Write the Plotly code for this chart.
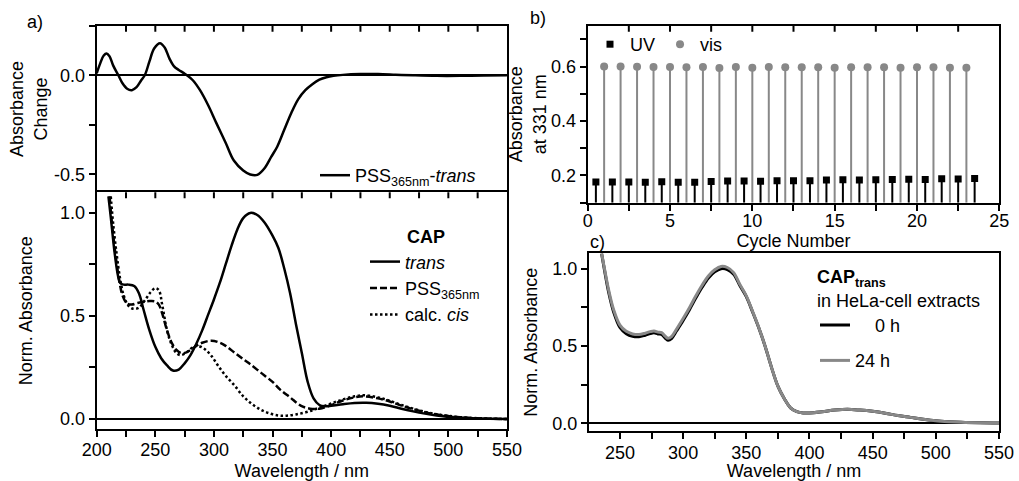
import plotly.graph_objects as go

FONT = "Liberation Sans, Arial, sans-serif"
GREY = "#888888"
CLEAR = "rgba(0,0,0,0)"

# ---------------- panel a (top): difference spectrum PSS365nm - trans
diff_wl = [200, 203, 206, 208.5, 211, 214, 218.5, 222, 226, 230, 234, 238, 241, 245, 249,
           254, 258, 262, 266, 270, 274, 277, 282, 288, 295, 302, 310, 317, 325, 331, 337,
           343, 349, 354, 360, 366, 372, 378, 384, 390, 396, 402, 410, 425, 440, 455, 470,
           490, 510, 530, 550]
diff_abs = [0.01, 0.06, 0.10, 0.11, 0.095, 0.05, 0.0, -0.04, -0.068, -0.075, -0.06, -0.025,
            0.0, 0.07, 0.135, 0.162, 0.14, 0.085, 0.045, 0.027, 0.012, 0.0, -0.025, -0.074,
            -0.15, -0.24, -0.34, -0.43, -0.48, -0.5, -0.502, -0.47, -0.41, -0.36, -0.275,
            -0.19, -0.12, -0.075, -0.045, -0.022, -0.01, -0.003, 0.002, 0.006, 0.006, 0.003,
            0.0, -0.003, -0.003, -0.001, 0.0]

# ---------------- panel a (bottom): normalised spectra of CAP
trans_wl = [210, 212, 215, 218, 220, 223, 227, 232, 236, 240, 245, 250, 255, 260, 265, 270,
            275, 280, 285, 290, 295, 300, 305, 310, 315, 320, 325, 331, 337, 343, 350, 355,
            360, 365, 370, 375, 380, 385, 390, 395, 400, 410, 420, 430, 440, 450, 460, 470,
            480, 490, 500, 510, 520, 535, 550]
trans_abs = [1.08, 0.98, 0.82, 0.70, 0.66, 0.652, 0.652, 0.645, 0.61, 0.53, 0.43, 0.35,
             0.295, 0.26, 0.235, 0.24, 0.27, 0.31, 0.365, 0.43, 0.505, 0.58, 0.66, 0.75,
             0.84, 0.92, 0.975, 1.0, 0.99, 0.955, 0.89, 0.83, 0.73, 0.61, 0.46, 0.32, 0.18,
             0.10, 0.068, 0.062, 0.064, 0.072, 0.078, 0.079, 0.074, 0.064, 0.05, 0.037,
             0.026, 0.017, 0.01, 0.006, 0.003, 0.001, 0.0]

pss_wl = [211, 213, 216, 219, 222, 226, 230, 235, 240, 245, 250, 253, 256, 260, 264, 268,
          272, 276, 280, 285, 290, 298, 305, 310, 318, 325, 330, 340, 350, 357, 365, 374,
          382, 390, 400, 410, 420, 428, 440, 450, 460, 470, 480, 490, 500, 510, 525, 550]
pss_abs = [1.08, 0.95, 0.80, 0.68, 0.60, 0.56, 0.555, 0.563, 0.568, 0.572, 0.57, 0.555,
           0.51, 0.43, 0.37, 0.335, 0.32, 0.322, 0.335, 0.355, 0.37, 0.38, 0.37, 0.355,
           0.32, 0.29, 0.27, 0.225, 0.18, 0.14, 0.105, 0.065, 0.05, 0.05, 0.068, 0.09,
           0.105, 0.11, 0.1, 0.085, 0.065, 0.048, 0.033, 0.022, 0.014, 0.008, 0.003, 0.0]

cis_wl = [212, 214, 217, 220, 223, 227, 231, 236, 241, 246, 250, 253, 256, 260, 264, 268,
          272, 277, 282, 286, 292, 298, 304, 310, 318, 325, 332, 340, 347, 355, 362, 370,
          380, 390, 400, 410, 420, 428, 440, 450, 460, 470, 480, 490, 500, 510, 525, 550]
cis_abs = [1.08, 0.95, 0.80, 0.68, 0.60, 0.55, 0.535, 0.54, 0.575, 0.615, 0.635, 0.625,
           0.55, 0.43, 0.36, 0.32, 0.31, 0.325, 0.348, 0.355, 0.34, 0.305, 0.255, 0.21,
           0.16, 0.11, 0.075, 0.045, 0.028, 0.017, 0.016, 0.022, 0.035, 0.055, 0.075,
           0.095, 0.11, 0.115, 0.105, 0.088, 0.068, 0.05, 0.035, 0.023, 0.015, 0.009,
           0.004, 0.0]

# ---------------- panel b: switching cycles, absorbance at 331 nm
uv_cycle = [i + 0.5 for i in range(24)]
uv_abs = [0.176, 0.176, 0.176, 0.175, 0.177, 0.175, 0.175, 0.178, 0.180, 0.180, 0.179,
          0.181, 0.181, 0.181, 0.183, 0.184, 0.183, 0.184, 0.185, 0.186, 0.185, 0.188,
          0.187, 0.189]
vis_cycle = list(range(1, 24))
vis_abs = [0.600, 0.600, 0.599, 0.598, 0.598, 0.597, 0.598, 0.595, 0.598, 0.596, 0.598,
           0.597, 0.597, 0.597, 0.596, 0.597, 0.597, 0.597, 0.596, 0.597, 0.597, 0.596,
           0.596]
stem_base = 0.1

# ---------------- panel c: CAP(trans) in HeLa-cell extracts
hela_wl = [235.5, 238, 241, 245, 250, 255, 260, 265, 270, 274, 277, 280, 283, 286, 288,
           291, 295, 300, 305, 310, 315, 320, 325, 330, 335, 340, 345, 350, 355, 360, 365,
           370, 375, 380, 385, 390, 395, 400, 410, 420, 430, 440, 450, 460, 470, 480, 490,
           500, 510, 520, 535, 550]
hela_0h = [1.097, 0.98, 0.85, 0.72, 0.62, 0.58, 0.563, 0.56, 0.57, 0.58, 0.585, 0.578,
           0.575, 0.55, 0.537, 0.55, 0.60, 0.665, 0.735, 0.81, 0.88, 0.94, 0.98, 1.0,
           0.995, 0.965, 0.89, 0.82, 0.72, 0.615, 0.495, 0.36, 0.24, 0.16, 0.10, 0.075,
           0.067, 0.067, 0.075, 0.085, 0.09, 0.085, 0.077, 0.065, 0.05, 0.038, 0.026,
           0.016, 0.01, 0.006, 0.003, 0.002]
hela_24h = [1.10, 0.99, 0.865, 0.735, 0.635, 0.595, 0.578, 0.574, 0.583, 0.593, 0.597,
            0.59, 0.586, 0.562, 0.55, 0.563, 0.612, 0.678, 0.748, 0.823, 0.893, 0.953,
            0.993, 1.015, 1.008, 0.975, 0.897, 0.825, 0.723, 0.617, 0.496, 0.36, 0.24,
            0.16, 0.10, 0.075, 0.067, 0.067, 0.075, 0.085, 0.09, 0.085, 0.077, 0.065,
            0.05, 0.038, 0.026, 0.016, 0.01, 0.006, 0.003, 0.002]

# tick positions for the inward-pointing combs on the upper frame edges
wavelength_edge_ticks = [225, 250, 275, 300, 325, 350, 375, 400, 425, 450, 475, 500, 525]
cycle_edge_ticks = [2.5, 5, 7.5, 10, 12.5, 15, 17.5, 20, 22.5]

fig = go.Figure()

line_w = 2.5
fig.add_trace(go.Scatter(x=diff_wl, y=diff_abs, mode="lines", line_shape="spline",
                         line=dict(color="black", width=line_w),
                         name="PSS<sub>365nm</sub>-<i>trans</i>", showlegend=True,
                         xaxis="x", yaxis="y", legend="legend"))

fig.add_trace(go.Scatter(x=trans_wl, y=trans_abs, mode="lines", line_shape="spline",
                         line=dict(color="black", width=line_w),
                         name="<i>trans</i>", xaxis="x2", yaxis="y2", legend="legend2"))
fig.add_trace(go.Scatter(x=pss_wl, y=pss_abs, mode="lines", line_shape="spline",
                         line=dict(color="black", width=line_w, dash="7px,3px"),
                         name="PSS<sub>365nm</sub>", xaxis="x2", yaxis="y2",
                         legend="legend2"))
fig.add_trace(go.Scatter(x=cis_wl, y=cis_abs, mode="lines", line_shape="spline",
                         line=dict(color="black", width=line_w, dash="2.5px,2.5px"),
                         name="calc. <i>cis</i>", xaxis="x2", yaxis="y2",
                         legend="legend2"))

# stems drawn as one-sided error bars down to the axis floor
fig.add_trace(go.Scatter(x=uv_cycle, y=uv_abs, mode="markers", name="UV",
                         marker=dict(symbol="square", size=7, color="black"),
                         error_y=dict(type="data", symmetric=False,
                                      array=[0] * len(uv_abs),
                                      arrayminus=[v - stem_base for v in uv_abs],
                                      width=0, thickness=2, color="black"),
                         xaxis="x4", yaxis="y3", legend="legend3"))
fig.add_trace(go.Scatter(x=vis_cycle, y=vis_abs, mode="markers", name="vis",
                         marker=dict(symbol="circle", size=8, color=GREY),
                         error_y=dict(type="data", symmetric=False,
                                      array=[0] * len(vis_abs),
                                      arrayminus=[v - stem_base for v in vis_abs],
                                      width=0, thickness=2, color=GREY),
                         xaxis="x4", yaxis="y3", legend="legend3"))

fig.add_trace(go.Scatter(x=hela_wl, y=hela_0h, mode="lines", line_shape="spline",
                         line=dict(color="black", width=3), legendgroup="0h",
                         name="\u2007\u20070 h", xaxis="x6", yaxis="y4",
                         legend="legend4"))
fig.add_trace(go.Scatter(x=hela_wl, y=hela_24h, mode="lines", line_shape="spline",
                         line=dict(color=GREY, width=3), legendgroup="24h",
                         name="24 h", xaxis="x6", yaxis="y4", legend="legend4"))

TICK_LEN, TICK_W = 6, 2
tick_font = dict(family=FONT, size=18, color="black")
base_axis = dict(showline=True, linecolor="black", linewidth=2, mirror=True,
                 ticks="outside", ticklen=TICK_LEN, tickwidth=TICK_W, tickcolor="black",
                 showgrid=False, zeroline=False, tickfont=tick_font, automargin=False,
                 title_font=dict(family=FONT, size=18, color="black"))
minor_out = dict(ticks="outside", ticklen=TICK_LEN, tickwidth=TICK_W, tickcolor="black")
zero_line = dict(zeroline=True, zerolinecolor="black", zerolinewidth=2)


def axis(**kw):
    return {**base_axis, **kw}


a_dom = [0.0949, 0.4975]
a_top, a_mid = 0.9466, 0.6002
b_top = 0.9466
fig.update_layout(
    width=1019, height=481, margin=dict(l=0, r=0, t=0, b=0, autoexpand=False),
    paper_bgcolor="white", plot_bgcolor="white", showlegend=True,
    font=dict(family=FONT, size=18, color="black"),
    # panel a, top: only the upper frame edge comes from its x axis
    xaxis=dict(domain=a_dom, anchor="y", side="top", range=[200, 550],
               showline=True, linecolor="black", linewidth=2, mirror=False,
               ticks="", showticklabels=False, showgrid=False, zeroline=False,
               automargin=False),
    yaxis=axis(domain=[a_mid, a_top], anchor="x", range=[-0.59, 0.25],
               tickvals=[-0.5, 0.0], ticktext=["-0.5", "0.0"],
               minor=dict(tickvals=[-0.25, 0.25], **minor_out), **zero_line,
               title=dict(text="Absorbance<br>Change", standoff=2)),
    # panel a, bottom
    xaxis2=axis(domain=a_dom, anchor="y2", range=[200, 550], dtick=50,
                minor=dict(dtick=25, **minor_out), ticklabelstandoff=-3,
                title=dict(text="Wavelength / nm", standoff=6)),
    yaxis2=axis(domain=[0.1075, a_mid], anchor="x2", range=[-0.05, 1.10],
                dtick=0.5, tickformat=".1f", minor=dict(dtick=0.25, **minor_out),
                **zero_line, title=dict(text="Norm. Absorbance", standoff=23)),
    # panel b
    xaxis4=axis(domain=[0.5767, 0.9807], anchor="y3", range=[0, 25],
                dtick=5, minor=dict(dtick=2.5, **minor_out), ticklabelstandoff=-5,
                title=dict(text="Cycle Number", standoff=0)),
    yaxis3=axis(domain=[0.5786, b_top], anchor="x4", range=[0.1, 0.75],
                tick0=0, dtick=0.2, tickformat=".1f",
                minor=dict(dtick=0.1, **minor_out),
                title=dict(text="Absorbance<br>at 331 nm", standoff=0)),
    # panel c
    xaxis6=axis(domain=[0.5780, 0.9804], anchor="y4", range=[225.5, 550],
                tick0=0, dtick=50, minor=dict(dtick=25, **minor_out),
                ticklabelstandoff=-2,
                title=dict(text="Wavelength / nm", standoff=10)),
    yaxis4=axis(domain=[0.1040, 0.4734], anchor="x6", range=[-0.05, 1.1],
                dtick=0.5, tickformat=".1f", minor=dict(dtick=0.25, **minor_out),
                **zero_line, title=dict(text="Norm. Absorbance", standoff=10)),
    legend=dict(x=315 / 1019, y=1 - 157 / 481, xanchor="left", yanchor="top",
                bgcolor=CLEAR, font=dict(size=18)),
    legend2=dict(x=365 / 1019, y=1 - 220 / 481, xanchor="left", yanchor="top",
                 bgcolor=CLEAR, font=dict(size=18), tracegroupgap=0,
                 title=dict(text="\u2007\u2007\u2007\u2007<b>CAP</b>",
                            font=dict(size=18))),
    legend3=dict(x=590 / 1019, y=1 - 26 / 481, xanchor="left", yanchor="top",
                 orientation="h", bgcolor=CLEAR, font=dict(size=18)),
    legend4=dict(x=815 / 1019, y=1 - 260 / 481, xanchor="left", yanchor="top",
                 bgcolor=CLEAR, font=dict(size=18), tracegroupgap=9,
                 title=dict(text="<b>CAP<sub>trans</sub></b><br>in HeLa-cell extracts",
                            font=dict(size=18))),
)


def add_edge_ticks(xref, yref, positions, length=TICK_LEN):
    # short tick marks hanging down from the top edge of a panel
    for v in positions:
        fig.add_shape(type="line", xref=xref, yref=f"{yref} domain", x0=v, x1=v,
                      ysizemode="pixel", yanchor=1, y0=0, y1=-length,
                      line=dict(color="black", width=TICK_W), layer="above")


add_edge_ticks("x", "y", wavelength_edge_ticks)
add_edge_ticks("x2", "y2", wavelength_edge_ticks)
add_edge_ticks("x4", "y3", cycle_edge_ticks)

for label, px, py in [("a)", 35, 22), ("b)", 538, 18), ("c)", 597, 242)]:
    fig.add_annotation(text=label, x=px / 1019, y=1 - py / 481, xref="paper",
                       yref="paper", showarrow=False, xanchor="center",
                       yanchor="middle", font=dict(family=FONT, size=18))

fig.write_html("out.html")
